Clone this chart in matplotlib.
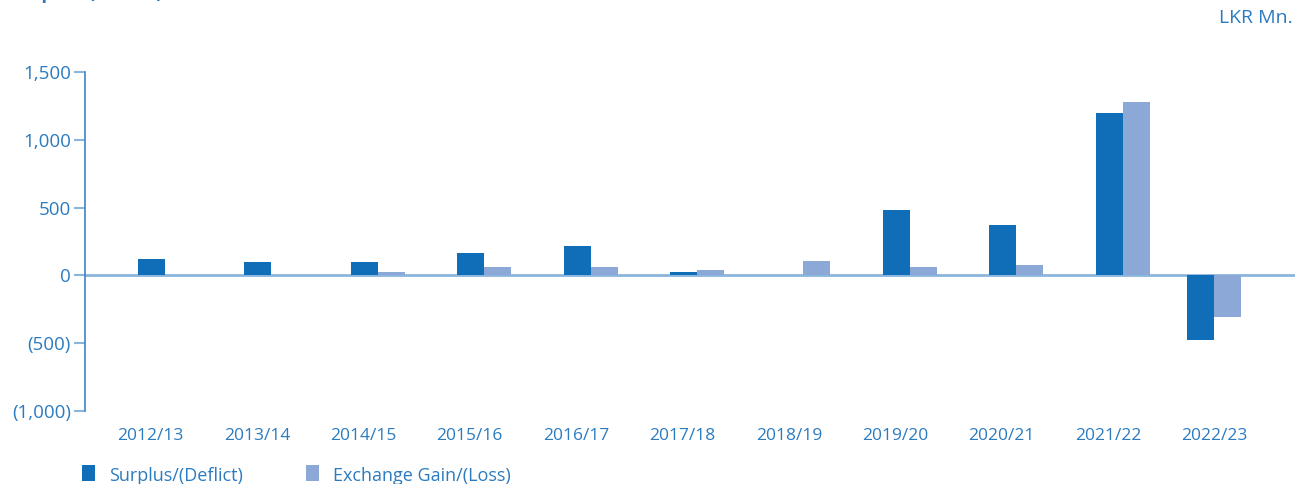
import numpy as np
import matplotlib
matplotlib.use("Agg")
import matplotlib.pyplot as plt
from matplotlib.patches import Rectangle

# LKR Mn. by financial year
years = ["2012/13", "2013/14", "2014/15", "2015/16", "2016/17", "2017/18",
         "2018/19", "2019/20", "2020/21", "2021/22", "2022/23"]
surplus = [120, 100, 100, 165, 215, 25, 0, 480, 370, 1200, -475]
exchange_gain = [0, 0, 25, 60, 60, 40, 105, 60, 75, 1280, -305]
y_ticks = [-1000, -500, 0, 500, 1000, 1500]
y_tick_labels = ["(1,000)", "(500)", "0", "500", "1,000", "1,500"]
legend_labels = ["Surplus/(Deflict)", "Exchange Gain/(Loss)"]

DARK = "#106eb8"
LIGHT = "#8ca8d6"
TEXT = "#2b7bc0"
ZERO = "#8ab6dd"

W, H = 1303, 484
plt.rcParams["font.family"] = ["Open Sans", "DejaVu Sans"]

fig = plt.figure(figsize=(W / 100, H / 100), dpi=100)
ax = fig.add_axes([85 / W, 1 - 411 / H, (1295 - 85) / W, (411 - 72) / H])

x = np.arange(len(years), dtype=float)
# bar pairs sit a little right of their labels, except the last year
grp = x + 0.136
grp[-1] = x[-1]
w = 0.254
ax.bar(grp - w / 2, surplus, w, color=DARK, zorder=3)
ax.bar(grp + w / 2, exchange_gain, w, color=LIGHT, zorder=3)
ax.axhline(0, color=ZERO, lw=2, zorder=2)

ax.set_xlim(-0.616, 10.757)
ax.set_ylim(-1000, 1500)
ax.set_yticks(y_ticks)
ax.set_yticklabels(y_tick_labels)
ax.set_xticks(x)
ax.set_xticklabels(years)

for s in ["top", "right", "bottom"]:
    ax.spines[s].set_visible(False)
ax.spines["left"].set_color("#3f82c2")
ax.spines["left"].set_linewidth(1.2)
ax.tick_params(axis="y", length=8, width=1.5, color=ZERO, pad=2,
               labelsize=13.5, labelcolor=TEXT)
ax.tick_params(axis="x", length=0, pad=12, labelsize=12.5, labelcolor=TEXT)

fig.text(1293 / W, 1 - 23 / H, "LKR Mn.", ha="right", va="baseline",
         fontsize=14, color=TEXT)
fig.text(10 / W, 1 + 2 / H, "Surplus/(Deficit)", ha="left", va="baseline",
         fontsize=13.5, fontweight="bold", color=TEXT)

# legend drawn by hand: square swatch + label
for (sx, tx), lab, col in zip([(82, 109), (306, 333)], legend_labels, [DARK, LIGHT]):
    fig.patches.append(Rectangle((sx / W, 1 - 481 / H), 13 / W, 16 / H,
                                 transform=fig.transFigure, facecolor=col,
                                 edgecolor="none"))
    fig.text(tx / W, 1 - 481 / H, lab, ha="left", va="baseline",
             fontsize=13, color=TEXT)

fig.savefig("out.png", dpi=100)
